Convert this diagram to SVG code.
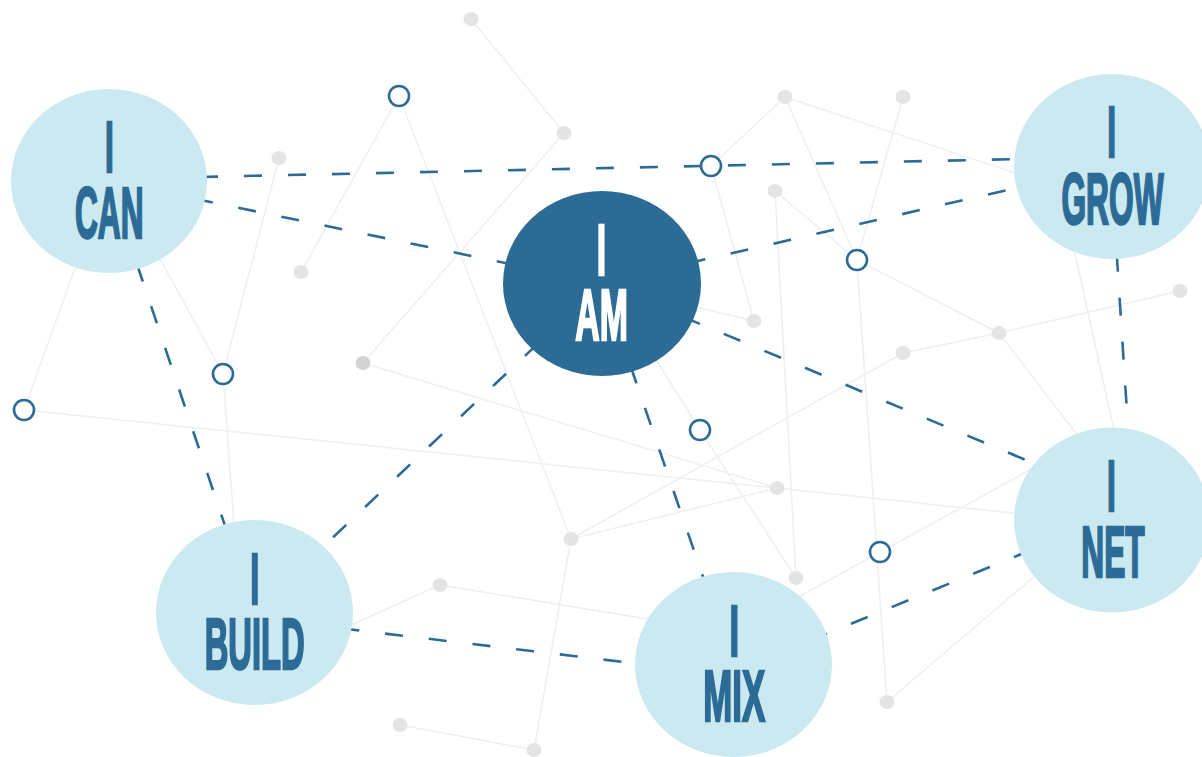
<svg xmlns="http://www.w3.org/2000/svg" width="1202" height="757" viewBox="0 0 1202 757">
  <defs>
    <style>
      .web { stroke: #efefef; stroke-width: 1.5; fill: none; }
      .dot { fill: #e4e4e4; }
      .dot-dark { fill: #d3d3d3; }
      .dash { stroke: #2d6b97; stroke-width: 2.6; fill: none; stroke-dasharray: 18 26; }
      .ring { fill: #ffffff; stroke: #2d6b97; stroke-width: 2.6; }
      .bubble { fill: #cbe9f1; }
      .bubble-main { fill: #2d6b97; }
      .label { font-family: "Liberation Sans", Arial, sans-serif; font-weight: bold; font-size: 72px; text-anchor: middle; fill: #2d6b97; stroke: #2d6b97; stroke-width: 2.6; stroke-linejoin: miter; vector-effect: non-scaling-stroke; }
      .label-main { fill: #ffffff; stroke: #ffffff; }
    </style>
  </defs>

  <rect width="1202" height="757" fill="#ffffff"/>

  <!-- faint background web -->
  <g id="backdrop">
    <g class="web">
      <line x1="471" y1="19" x2="564" y2="133"/>
      <line x1="564" y1="133" x2="363" y2="363"/>
      <line x1="363" y1="363" x2="777" y2="488"/>
      <line x1="399" y1="96" x2="301" y2="272"/>
      <line x1="399" y1="96" x2="571" y2="539"/>
      <line x1="279" y1="158" x2="223" y2="374"/>
      <line x1="128" y1="200" x2="223" y2="374"/>
      <line x1="223" y1="374" x2="234" y2="525"/>
      <line x1="88" y1="232" x2="24" y2="410"/>
      <line x1="24" y1="410" x2="777" y2="488"/>
      <line x1="777" y1="488" x2="1050" y2="517"/>
      <line x1="571" y1="539" x2="777" y2="488"/>
      <line x1="571" y1="539" x2="903" y2="353"/>
      <line x1="903" y1="353" x2="999" y2="333"/>
      <line x1="999" y1="333" x2="1180" y2="291"/>
      <line x1="999" y1="333" x2="857" y2="260"/>
      <line x1="999" y1="333" x2="1085" y2="445"/>
      <line x1="775" y1="191" x2="857" y2="260"/>
      <line x1="775" y1="191" x2="796" y2="578"/>
      <line x1="785" y1="97" x2="711" y2="166"/>
      <line x1="785" y1="97" x2="857" y2="260"/>
      <line x1="785" y1="97" x2="1030" y2="178"/>
      <line x1="903" y1="97" x2="857" y2="260"/>
      <line x1="857" y1="260" x2="887" y2="702"/>
      <line x1="887" y1="702" x2="1050" y2="563"/>
      <line x1="711" y1="166" x2="754" y2="321"/>
      <line x1="754" y1="321" x2="660" y2="298"/>
      <line x1="640" y1="334" x2="700" y2="430"/>
      <line x1="700" y1="430" x2="796" y2="578"/>
      <line x1="571" y1="539" x2="534" y2="750"/>
      <line x1="400" y1="725" x2="534" y2="750"/>
      <line x1="440" y1="585" x2="340" y2="630"/>
      <line x1="440" y1="585" x2="660" y2="621"/>
      <line x1="780" y1="607" x2="1050" y2="459"/>
      <line x1="1072" y1="240" x2="1114" y2="430"/>
    </g>
    <g class="dot">
      <ellipse cx="471" cy="19" rx="7.5" ry="7"/>
      <ellipse cx="564" cy="133" rx="7.5" ry="7"/>
      <ellipse cx="279" cy="158" rx="7.5" ry="7"/>
      <ellipse cx="301" cy="272" rx="7.5" ry="7"/>
      <ellipse cx="785" cy="97" rx="7.5" ry="7"/>
      <ellipse cx="903" cy="97" rx="7.5" ry="7"/>
      <ellipse cx="775" cy="191" rx="7.5" ry="7"/>
      <ellipse cx="754" cy="321" rx="7.5" ry="7"/>
      <ellipse cx="1180" cy="291" rx="7.5" ry="7"/>
      <ellipse cx="999" cy="333" rx="7.5" ry="7"/>
      <ellipse cx="903" cy="353" rx="7.5" ry="7"/>
      <ellipse cx="777" cy="488" rx="7.5" ry="7"/>
      <ellipse cx="571" cy="539" rx="7.5" ry="7"/>
      <ellipse cx="440" cy="585" rx="7.5" ry="7"/>
      <ellipse cx="796" cy="578" rx="7.5" ry="7"/>
      <ellipse cx="887" cy="702" rx="7.5" ry="7"/>
      <ellipse cx="400" cy="725" rx="7.5" ry="7"/>
      <ellipse cx="534" cy="750" rx="7.5" ry="7"/>
    </g>
    <ellipse class="dot-dark" cx="363" cy="363" rx="7.5" ry="7"/>
  </g>

  <!-- dashed links between the bubbles -->
  <g id="connectors" class="dash">
    <line x1="200" y1="177" x2="1020" y2="159"/>
    <line x1="109" y1="181" x2="602" y2="283"/>
    <line x1="109" y1="181" x2="254" y2="612"/>
    <line x1="602" y1="283" x2="254" y2="612"/>
    <line x1="602" y1="283" x2="733" y2="664"/>
    <line x1="602" y1="283" x2="1112" y2="496"/>
    <line x1="602" y1="283" x2="1112" y2="166"/>
    <line x1="1111" y1="166" x2="1134" y2="520"/>
    <line x1="1112" y1="517" x2="733" y2="672"/>
    <line x1="254" y1="618" x2="733" y2="675"/>
  </g>

  <!-- open junction rings -->
  <g id="junctions">
    <circle class="ring" cx="399" cy="96" r="10"/>
    <circle class="ring" cx="711" cy="166" r="10"/>
    <circle class="ring" cx="857" cy="260" r="10"/>
    <circle class="ring" cx="223" cy="374" r="10"/>
    <circle class="ring" cx="24" cy="410" r="10"/>
    <circle class="ring" cx="700" cy="430" r="10"/>
    <circle class="ring" cx="880" cy="552" r="10"/>
  </g>

  <!-- bubbles; each two-line label is squeezed horizontally into a tall condensed look -->
  <g id="node-can">
    <ellipse class="bubble" cx="109" cy="181" rx="98" ry="92"/>
    <text class="label" transform="translate(109.3 0) scale(0.44 1)"><tspan x="0" y="172.5">I</tspan><tspan x="0" y="238">CAN</tspan></text>
  </g>

  <g id="node-am">
    <ellipse class="bubble-main" cx="602" cy="283.5" rx="99" ry="92.5"/>
    <text class="label label-main" transform="translate(601.5 0) scale(0.47 1)"><tspan x="0" y="275">I</tspan><tspan x="0" y="340.5">AM</tspan></text>
  </g>

  <g id="node-grow">
    <ellipse class="bubble" cx="1112" cy="166.5" rx="98" ry="92.5"/>
    <text class="label" transform="translate(1112.5 0) scale(0.44 1)"><tspan x="-2" y="157">I</tspan><tspan x="0" y="224">GROW</tspan></text>
  </g>

  <g id="node-build">
    <ellipse class="bubble" cx="254.5" cy="612.5" rx="98.5" ry="92.5"/>
    <text class="label" transform="translate(254.7 0) scale(0.455 1)"><tspan x="0" y="604">I</tspan><tspan x="0" y="669.5">BUILD</tspan></text>
  </g>

  <g id="node-mix">
    <ellipse class="bubble" cx="733.5" cy="664.5" rx="98.5" ry="92.5"/>
    <text class="label" transform="translate(734.3 0) scale(0.484 1)"><tspan x="0" y="656">I</tspan><tspan x="0" y="721.5">MIX</tspan></text>
  </g>

  <g id="node-net">
    <ellipse class="bubble" cx="1112" cy="520" rx="98" ry="92.5"/>
    <text class="label" transform="translate(1112.3 0) scale(0.44 1)"><tspan x="-2" y="511.5">I</tspan><tspan x="1.5" y="577.5">NET</tspan></text>
  </g>
</svg>
